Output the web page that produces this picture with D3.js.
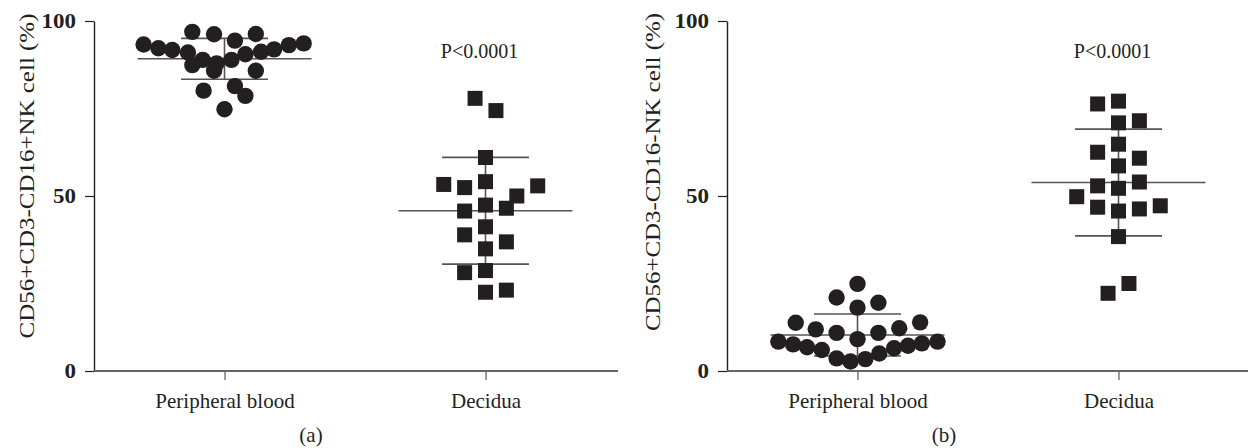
<!DOCTYPE html>
<html>
<head>
<meta charset="utf-8">
<script src="https://cdn.jsdelivr.net/npm/d3@7"></script>
<style>
  html, body { margin: 0; padding: 0; background: #fff; }
  svg { display: block; }
  text { font-family: "Liberation Serif", "Times New Roman", serif; fill: #231f20; }
</style>
</head>
<body>
<svg id="chart" width="1248" height="448"></svg>
<script>
// ---------- data ----------
const categories = ["Peripheral blood", "Decidua"];
const yTicks = [0, 50, 100];
const pValueText = "P<0.0001";
const yLabelA = "CD56+CD3-CD16+NK cell (%)";
const yLabelB = "CD56+CD3-CD16-NK cell (%)";
const panelTags = ["(a)", "(b)"];

// Panel (a): CD56+CD3-CD16+ NK cells (%)
const pbA       = [93.3, 92.2, 91.7, 91.0, 96.9, 96.2, 94.4, 96.3, 87.4, 88.9, 87.9, 85.8, 88.9, 90.5, 91.2, 91.9, 93.1, 93.6, 85.8, 80.1, 81.4, 78.6, 74.8];
const pbAJitter = [-0.93, -0.76, -0.60, -0.42, -0.37, -0.12, 0.12, 0.36, -0.37, -0.25, -0.09, -0.12, 0.08, 0.24, 0.42, 0.57, 0.74, 0.91, 0.36, -0.24, 0.12, 0.24, 0];
const deA       = [77.9, 74.4, 61.0, 53.3, 52.4, 54.1, 52.9, 50.0, 45.7, 47.4, 46.5, 38.9, 41.2, 36.9, 34.9, 28.7, 28.1, 22.5, 23.1];
const deAJitter = [-0.12, 0.12, 0, -0.48, -0.24, 0, 0.60, 0.36, -0.24, 0, 0.24, -0.24, 0, 0.24, 0, 0, -0.24, 0, 0.24];
const meanA = [89.2, 45.8];
const sdA   = [5.85, 15.25];

// Panel (b): CD56+CD3-CD16- NK cells (%)
const pbB       = [24.9, 21.0, 19.5, 18.1, 13.8, 11.9, 10.9, 9.1, 10.9, 12.2, 13.9, 8.4, 7.6, 6.8, 6.0, 3.6, 2.7, 3.4, 5.0, 6.5, 7.2, 7.9, 8.4];
const pbBJitter = [0, -0.24, 0.24, 0, -0.71, -0.48, -0.24, 0, 0.24, 0.48, 0.72, -0.91, -0.74, -0.58, -0.41, -0.24, -0.08, 0.09, 0.25, 0.42, 0.58, 0.74, 0.92];
const deB       = [76.3, 77.1, 70.9, 71.5, 64.8, 62.5, 60.8, 58.6, 52.9, 52.2, 54.0, 49.8, 46.8, 45.7, 46.3, 47.2, 38.4, 25.0, 22.2];
const deBJitter = [-0.24, 0, 0, 0.24, 0, -0.24, 0.24, 0, -0.24, 0, 0.24, -0.48, -0.24, 0, 0.24, 0.48, 0, 0.12, -0.12];
const meanB = [10.3, 53.85];
const sdB   = [6.0, 15.25];

// ---------- drawing ----------
const svg = d3.select("#chart");
const ink = "#231f20";
const lineGray = "#555555";

function drawPanel(opt) {
  const g = svg.append("g");
  const x = d3.scalePoint().domain(categories).range([opt.x0, opt.x1]).padding(0.5);
  const y = d3.scaleLinear().domain([0, 100]).range([371, 21]);
  const jit = d3.scaleLinear().domain([-1, 1]).range([-x.step() / 3, x.step() / 3]);

  // y axis
  const ya = g.append("g").attr("transform", `translate(${opt.x0},0)`)
    .call(d3.axisLeft(y).tickValues(yTicks).tickSize(9).tickPadding(9).tickSizeOuter(0));
  ya.select(".domain").attr("stroke", ink).attr("stroke-width", 1.4);
  ya.selectAll(".tick line").attr("stroke", ink).attr("stroke-width", 1.2);
  ya.selectAll(".tick text").attr("font-family", "Liberation Serif").attr("font-weight", "bold")
    .attr("font-size", 20).attr("fill", ink).attr("dy", "0.33em")
    .attr("textLength", d => String(d).length * 11.5).attr("lengthAdjust", "spacingAndGlyphs");

  // x axis
  const xa = g.append("g").attr("transform", `translate(0,${y(0)})`)
    .call(d3.axisBottom(x).tickSize(9).tickPadding(10).tickSizeOuter(0));
  xa.select(".domain").remove();
  g.append("line").attr("x1", opt.x0).attr("x2", opt.axisEnd)
    .attr("y1", y(0)).attr("y2", y(0)).attr("stroke", "#666").attr("stroke-width", 2);
  xa.selectAll(".tick line").attr("stroke", "#555").attr("stroke-width", 1.2);
  xa.selectAll(".tick text").attr("font-family", "Liberation Serif").attr("font-size", 21)
    .attr("fill", ink).attr("dy", "0.85em");

  // y label
  g.append("text")
    .attr("transform", `translate(${opt.labelX},${opt.labelY}) rotate(-90)`)
    .attr("text-anchor", "middle").attr("font-size", 21)
    .attr("textLength", opt.labelLen).attr("lengthAdjust", "spacingAndGlyphs")
    .text(opt.yLabel);

  // mean ± SD
  categories.forEach((c, i) => {
    const cx = x(c), m = opt.mean[i], s = opt.sd[i];
    const wMean = x.step() / 3, wSd = x.step() / 6;
    g.append("line").attr("x1", cx).attr("x2", cx).attr("y1", y(m + s)).attr("y2", y(m - s))
      .attr("stroke", lineGray).attr("stroke-width", 1.6);
    g.append("line").attr("x1", cx - wMean).attr("x2", cx + wMean).attr("y1", y(m)).attr("y2", y(m))
      .attr("stroke", lineGray).attr("stroke-width", 1.6);
    [m + s, m - s].forEach(v => {
      g.append("line").attr("x1", cx - wSd).attr("x2", cx + wSd).attr("y1", y(v)).attr("y2", y(v))
        .attr("stroke", lineGray).attr("stroke-width", 1.6);
    });
  });

  // circles (peripheral blood)
  g.append("g").selectAll("circle").data(opt.pb.map((v, i) => ({ v, j: opt.pbJ[i] })))
    .join("circle")
    .attr("cx", d => x(categories[0]) + jit(d.j))
    .attr("cy", d => y(d.v))
    .attr("r", 8.2)
    .attr("fill", ink);

  // squares (decidua)
  const sq = 15;
  g.append("g").selectAll("rect").data(opt.de.map((v, i) => ({ v, j: opt.deJ[i] })))
    .join("rect")
    .attr("x", d => x(categories[1]) + jit(d.j) - sq / 2)
    .attr("y", d => y(d.v) - sq / 2)
    .attr("width", sq).attr("height", sq)
    .attr("fill", ink);

  // p value
  g.append("text").attr("x", x(categories[1]) - 6).attr("y", 58)
    .attr("text-anchor", "middle").attr("font-size", 20).text(pValueText);

  // panel tag
  g.append("text").attr("x", opt.tagX).attr("y", 442)
    .attr("text-anchor", "middle").attr("font-size", 21).text(opt.tag);
}

drawPanel({ x0: 94, x1: 616, axisEnd: 618, pb: pbA, pbJ: pbAJitter, de: deA, deJ: deAJitter,
  mean: meanA, sd: sdA, yLabel: yLabelA, labelX: 34, labelY: 176, labelLen: 325, tag: panelTags[0], tagX: 311 });
drawPanel({ x0: 727, x1: 1249, axisEnd: 1252, pb: pbB, pbJ: pbBJitter, de: deB, deJ: deBJitter,
  mean: meanB, sd: sdB, yLabel: yLabelB, labelX: 660, labelY: 172, labelLen: 318, tag: panelTags[1], tagX: 944 });
</script>
</body>
</html>
